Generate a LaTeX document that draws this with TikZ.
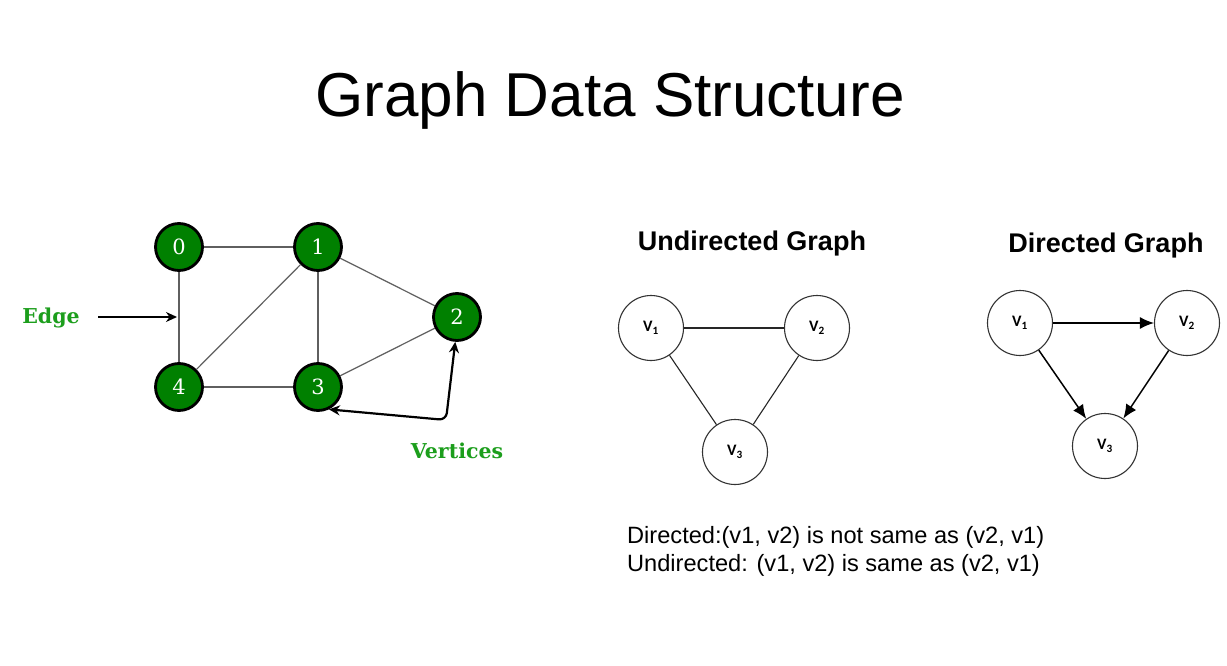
\documentclass[tikz,border=0pt]{standalone}
\usepackage{fontspec}
\setmainfont{Liberation Sans}
\newfontfamily\dvserif{DejaVu Serif}
\newfontfamily\vfont{Carlito}
\usetikzlibrary{arrows.meta,calc}
\definecolor{nodegreen}{RGB}{0,128,0}
\definecolor{labelgreen}{RGB}{28,158,28}
\definecolor{edgegray}{RGB}{95,95,95}
\begin{document}
\begin{tikzpicture}[x=1pt,y=-1pt,
  gnode/.style={circle,draw=black,line width=2.8pt,fill=nodegreen,minimum size=47pt,inner sep=0pt,
    text=white,font=\dvserif\fontsize{21}{21}\selectfont},
  gedge/.style={draw=edgegray,line width=1.2pt},
  glabel/.style={text=labelgreen,font=\dvserif\bfseries\fontsize{20.5}{20.5}\selectfont},
  pointer/.style={draw=black,line width=2.2pt},
  ptip/.tip={Stealth[length=11pt,width=10pt]},
  vnode/.style={circle,draw=black!80,line width=1.1pt,minimum size=65pt,inner sep=0pt,
    font=\vfont\bfseries\fontsize{16}{16}\selectfont},
  uedge/.style={draw=black!85,line width=1.1pt},
  dedge/.style={draw=black,line width=1.5pt,-{Latex[length=14pt,width=12pt]}},
  heading/.style={font=\bfseries\fontsize{27}{27}\selectfont},
  note/.style={anchor=base west,inner sep=0pt,font=\fontsize{23.6}{28}\selectfont},
]
\useasboundingbox (0,0) rectangle (1227,666);
\fill[white] (0,0) rectangle (1227,666);

% title
\node[font=\fontsize{62}{62}\selectfont,anchor=base] (title) at (610,117) {Graph Data Structure};

% left graph
\node[gnode] (n0) at (179,247) {0};
\node[gnode] (n1) at (318,247) {1};
\node[gnode] (n2) at (457,317) {2};
\node[gnode] (n3) at (318,387) {3};
\node[gnode] (n4) at (179,387) {4};
\draw[gedge] (n0) -- (n1);
\draw[gedge] (n0) -- (n4);
\draw[gedge] (n1) -- (n4);
\draw[gedge] (n1) -- (n3);
\draw[gedge] (n1) -- (n2);
\draw[gedge] (n4) -- (n3);
\draw[gedge] (n3) -- (n2);

\node[glabel] (edgelbl) at (51,318) {Edge};
\coordinate (edgetip) at (177,317);
\draw[pointer,-ptip] (98,317) -- (edgetip);

\node[glabel] (vertlbl) at (457,451) {Vertices};
\coordinate (vcorner) at (446,420);
\draw[pointer,ptip-ptip,rounded corners=7pt]
  (n3.-64) -- (vcorner) -- (n2.-94);

% undirected graph
\node[heading] (uhead) at (752,244) {Undirected Graph};
\node[vnode] (u1) at (651,328) {V\textsubscript{1}};
\node[vnode] (u2) at (817,328) {V\textsubscript{2}};
\node[vnode] (u3) at (735,452) {V\textsubscript{3}};
\draw[uedge] (u1) -- (u2);
\draw[uedge] (u1) -- (u3);
\draw[uedge] (u2) -- (u3);

% directed graph
\node[heading] (dhead) at (1106,246) {Directed Graph};
\node[vnode] (d1) at (1020,323) {V\textsubscript{1}};
\node[vnode] (d2) at (1187,323) {V\textsubscript{2}};
\node[vnode] (d3) at (1105,446) {V\textsubscript{3}};
\draw[dedge] (d1) -- (d2);
\draw[dedge] (d1) -- (d3);
\draw[dedge] (d2) -- (d3);

% notes
\node[note] (note1) at (627,543) {Directed:(v1, v2) is not same as (v2, v1)};
\node[note] (note2) at (627,571) {Undirected: (v1, v2) is same as (v2, v1)};
\end{tikzpicture}
\end{document}
